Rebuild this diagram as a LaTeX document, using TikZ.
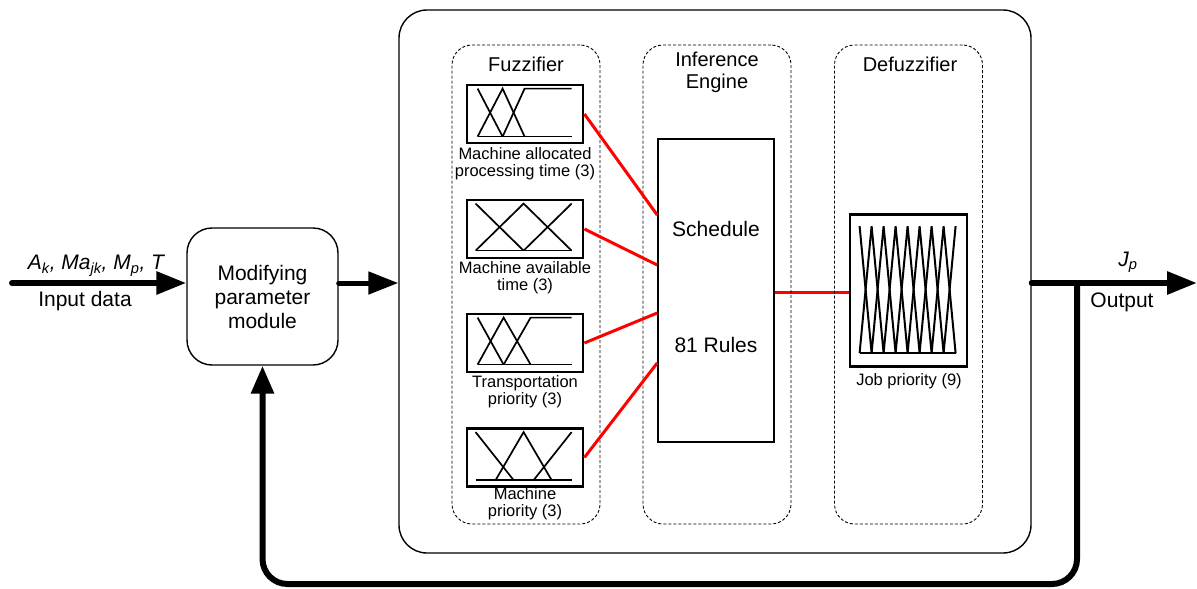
\documentclass[tikz,border=0pt]{standalone}
\usepackage{fontspec}
\setmainfont{Liberation Sans}
\usetikzlibrary{arrows.meta,calc}
\begin{document}
\begin{tikzpicture}[x=1pt,y=-1pt,
  bigtext/.style={font=\fontsize{21}{24}\selectfont, align=center, inner sep=0},
  titletext/.style={font=\fontsize{20}{22}\selectfont, align=center, inner sep=0},
  smalltext/.style={font=\fontsize{16.5}{17}\selectfont, align=center, inner sep=0},
  mainbox/.style={draw, rounded corners=28pt, line width=1.4pt, minimum width=632pt, minimum height=543pt},
  dashbox/.style={draw, dash pattern=on 3pt off 2pt, line width=0.9pt, rounded corners=20pt, minimum width=148pt, minimum height=479pt},
  modbox/.style={draw, rounded corners=25pt, line width=1.4pt, minimum width=151pt, minimum height=137pt, inner sep=0},
  mfbox/.style={draw, line width=2.8pt, minimum width=116pt, minimum height=58pt, inner sep=0},
  schedbox/.style={draw, line width=1.6pt, minimum width=116pt, minimum height=303pt, inner sep=0},
  defbox/.style={draw, line width=2.8pt, minimum width=117pt, minimum height=152pt, inner sep=0},
  mfline/.style={line width=1.7pt},
  redline/.style={draw=red, line width=3pt},
  fatarrow/.style={line width=6pt, -{Triangle[length=30pt,width=22pt]}},
  fatline/.style={line width=6pt}
]
\useasboundingbox (0,0) rectangle (1197,589);

% main container
\node[mainbox] (main) at (715,281.5) {};

% inference engine box (drawn before dashed boxes so dashes lie on top of red)
\node[schedbox] (sched) at (716,290.5) {};
\node[defbox] (job) at (908.5,290.5) {};
\draw[redline] (sched.east |- 0,292) -- (job.west |- 0,292);

\node[dashbox] (fuzz) at (526,284.5) {};
\node[dashbox] (infer) at (717,284.5) {};
\node[dashbox] (defz) at (908.5,284.5) {};

\node[titletext] (tfuzz) at (526,64) {Fuzzifier};
\node[titletext] (tinfer) at (717,72) {Inference\\Engine};
\node[titletext] (tdefz) at (910,64) {Defuzzifier};

% modifying module
\node[modbox, bigtext] (mod) at (262.5,296.5) {Modifying\\parameter\\module};

% membership function boxes
\node[mfbox] (m1) at (525,114) {};
\node[mfbox] (m2) at (525,229) {};
\node[mfbox] (m3) at (525,343) {};
\node[mfbox] (m4) at (525,457.5) {};

\node[smalltext] (l1) at (525,164) {Machine allocated\\processing time (3)};
\node[smalltext] (l2) at (525,278) {Machine available\\time (3)};
\node[smalltext] (l3) at (525,392) {Transportation\\priority (3)};
\node[smalltext] (l4) at (525,504) {Machine\\priority (3)};

% MF shapes
\begin{scope}[shift={(m1.north west)}]
  \draw[mfline] (12,5) -- (37,53);
  \draw[mfline] (12,53) -- (37,5) -- (59,53);
  \draw[mfline] (37,53) -- (59,5) -- (106,5);
  \draw[mfline] (12,53) -- (106,53);
\end{scope}
\begin{scope}[shift={(m2.north west)}]
  \draw[mfline] (10,5) -- (58,52);
  \draw[mfline] (10,52) -- (58,5) -- (106,52);
  \draw[mfline] (58,52) -- (106,5);
  \draw[mfline] (10,52) -- (106,52);
\end{scope}
\begin{scope}[shift={(m3.north west)}]
  \draw[mfline] (12,5) -- (38,52);
  \draw[mfline] (12,52) -- (38,5) -- (65,52);
  \draw[mfline] (38,52) -- (65,5) -- (106,5);
  \draw[mfline] (12,52) -- (106,52);
\end{scope}
\begin{scope}[shift={(m4.north west)}]
  \draw[mfline] (10,5) -- (48,53);
  \draw[mfline] (30,53) -- (58,5) -- (86,53);
  \draw[mfline] (68,53) -- (106,5);
  \draw[mfline] (10,53) -- (106,53);
\end{scope}

% inference engine texts
\node[bigtext] (tsched) at (716,229) {Schedule};
\node[bigtext] (trules) at (716,345) {81 Rules};

% defuzzifier
\node[smalltext] (ljob) at (909,381) {Job priority (9)};
\begin{scope}[shift={(job.north west)}]
  \draw[mfline, line width=2pt] (11,13) -- (23,140) -- (35,13) -- (47,140) -- (59,13) -- (71,140) -- (83,13) -- (95,140) -- (107,13);
  \draw[mfline, line width=2pt] (11,140) -- (23,13) -- (35,140) -- (47,13) -- (59,140) -- (71,13) -- (83,140) -- (95,13) -- (107,140);
  \draw[mfline, line width=2pt] (11,140) -- (107,140);
\end{scope}

% red connectors
\draw[redline] (m1.east) -- ([yshift=75.5pt]sched.west);
\draw[redline] (m2.east) -- ([yshift=25.5pt]sched.west);
\draw[redline] (m3.east) -- ([yshift=-22.5pt]sched.west);
\draw[redline] (m4.east) -- ([yshift=-72.5pt]sched.west);

% input
\coordinate (in) at (12,283);
\draw[fatarrow, line cap=round] (in) -- ([yshift=13.5pt]mod.west);
\node[bigtext, font=\fontsize{21}{24}\selectfont\itshape] (inlab) at (96,266) {A\textsubscript{k}, Ma\textsubscript{jk}, M\textsubscript{p}, T};
\node[bigtext] (indata) at (85,301) {Input data};

% modify -> main
\draw[fatarrow, line width=5pt, line cap=round] ([yshift=13.5pt]mod.east) -- ([yshift=-1.5pt]main.west);

% output
\coordinate (out) at (1197,283);
\coordinate (jn) at (1077,283);
\draw[fatarrow, line cap=round] ([yshift=-1.5pt]main.east) -- (out);
\node[bigtext, font=\fontsize{21}{24}\selectfont\itshape] (jp) at (1128,262) {J\textsubscript{p}};
\node[bigtext] (outlab) at (1122,302) {Output};

% feedback
\coordinate (fb) at (700,584);
\draw[fatline, rounded corners=25pt, -{Triangle[length=28pt,width=22pt]}] (jn) |- (fb) -| (mod.south);

\end{tikzpicture}
\end{document}
